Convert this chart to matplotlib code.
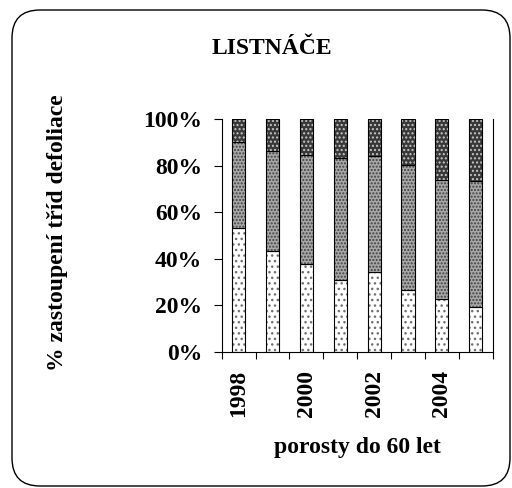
import matplotlib
matplotlib.use("Agg")
import matplotlib.pyplot as plt
import matplotlib.patches as mpatches
import numpy as np

years = [1998, 1999, 2000, 2001, 2002, 2003, 2004, 2005]
tick_labels = ["1998", "", "2000", "", "2002", "", "2004", ""]
class_low = [53.2, 43.4, 37.8, 31.0, 34.4, 26.7, 22.6, 19.2]
class_mid = [36.9, 43.1, 46.8, 52.4, 49.9, 53.6, 51.3, 54.3]
class_high = [9.9, 13.5, 15.4, 16.6, 15.7, 19.7, 26.1, 26.5]

plt.rcParams['font.family'] = ['Liberation Serif', 'DejaVu Serif']
plt.rcParams['font.weight'] = 'bold'
plt.rcParams['hatch.linewidth'] = 1.0

W, H = 512, 488
fig = plt.figure(figsize=(W / 100, H / 100), dpi=100)

ax = fig.add_axes([221.7 / W, 1 - 352 / H, (492.7 - 221.7) / W, (352 - 119.3) / H])

x = np.arange(len(years))
bw = 0.39
segments = [
    (class_low, '#ffffff', '#707070', '...'),
    (class_mid, '#a8a8a8', '#404040', '.....'),
    (class_high, '#383838', '#c8c8c8', '....'),
]
bottom = np.zeros(len(years))
for vals, fc, hc, hatch in segments:
    vals = np.array(vals)
    ax.bar(x, vals, bw, bottom=bottom, color=fc, edgecolor=hc, hatch=hatch, linewidth=0)
    ax.bar(x, vals, bw, bottom=bottom, fill=False, edgecolor='black', linewidth=0.8)
    bottom += vals

fs = 17
ax.set_xlim(-0.5, len(years) - 0.5)
ax.set_ylim(0, 100)
ax.set_yticks([0, 20, 40, 60, 80, 100])
ax.set_yticklabels([f"{v}%" for v in [0, 20, 40, 60, 80, 100]], fontsize=fs, fontweight='bold')
ax.set_xticks(np.arange(len(years) + 1) - 0.5)
ax.set_xticklabels([])
ax.set_xticks(x, minor=True)
ax.set_xticklabels(tick_labels, minor=True, rotation=90, fontsize=fs, fontweight='bold')
ax.tick_params(axis='x', which='minor', length=0, pad=13)
ax.tick_params(axis='x', which='major', length=5, width=0.8, direction='out')
ax.tick_params(axis='y', length=6, width=0.8, direction='out', pad=8)
for s in ['left', 'bottom', 'right', 'top']:
    ax.spines[s].set_linewidth(0.8)
ax.spines['top'].set_visible(False)

fig.text(272 / W, 1 - 48 / H, "LISTNÁČE", ha='center', va='center', fontsize=fs, fontweight='bold')
fig.text(58 / W, 1 - 233 / H, "% zastoupení tříd defoliace", ha='center', va='center',
         rotation=90, fontsize=fs, fontweight='bold')
fig.text(357 / W, 1 - 447 / H, "porosty do 60 let", ha='center', va='center', fontsize=fs, fontweight='bold')

border = mpatches.FancyBboxPatch((12, 2), 498, 476, boxstyle="round,pad=0,rounding_size=28",
                                 transform=None, fill=False, edgecolor='black', linewidth=1.0)
fig.patches.append(border)

fig.savefig("out.png", dpi=100)
